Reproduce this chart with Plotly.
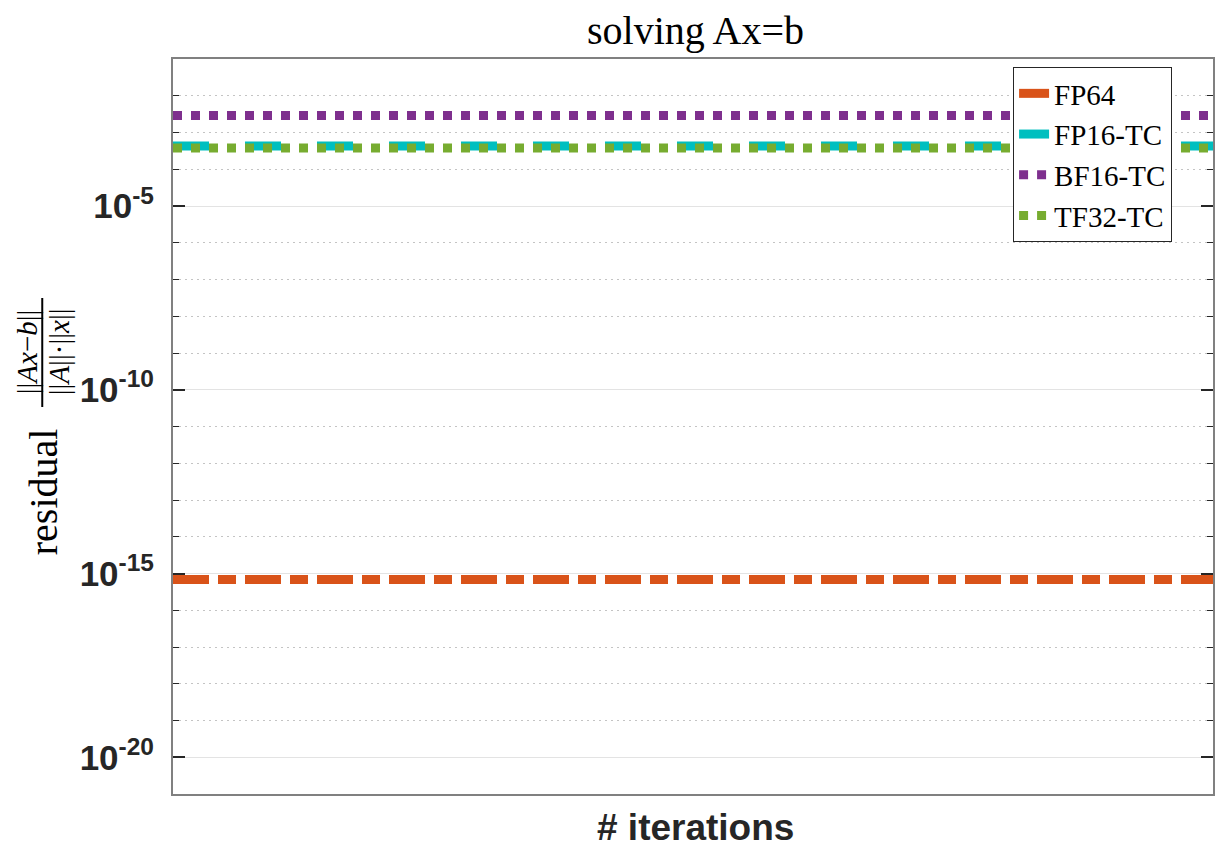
import plotly.graph_objects as go

# ---- data ----
iterations = [1, 2, 3, 4, 5, 6, 7, 8, 9, 10]
fp64 = [6.9e-16, 6.9e-16, 6.9e-16, 6.9e-16, 6.9e-16, 6.9e-16, 6.9e-16, 6.9e-16, 6.9e-16, 6.9e-16]
fp16_tc = [4.3e-4, 4.3e-4, 4.3e-4, 4.3e-4, 4.3e-4, 4.3e-4, 4.3e-4, 4.3e-4, 4.3e-4, 4.3e-4]
bf16_tc = [2.9e-3, 2.9e-3, 2.9e-3, 2.9e-3, 2.9e-3, 2.9e-3, 2.9e-3, 2.9e-3, 2.9e-3, 2.9e-3]
tf32_tc = [3.8e-4, 3.8e-4, 3.8e-4, 3.8e-4, 3.8e-4, 3.8e-4, 3.8e-4, 3.8e-4, 3.8e-4, 3.8e-4]

series_names = ["FP64", "FP16-TC", "BF16-TC", "TF32-TC"]
series_values = [fp64, fp16_tc, bf16_tc, tf32_tc]
series_colors = ["#D95319", "#00BFBF", "#7E2F8E", "#77AC30"]
series_dash = ["36px,9px,18px,9px", "36px,36px", "9px,9px", "9px,9px"]

major_exp = [-20, -15, -10, -5]
major_vals = [10.0 ** e for e in major_exp]
major_text = ["<b>10<sup>%d</sup></b>" % e for e in major_exp]
minor_vals = [10.0 ** (-k) for k in range(1, 22) if k % 5 != 0]

W, H = 1215, 847
L, R, T, B = 173, 0, 59, 53
PW, PH = W - L - R, H - T - B


def px(x):
    return (x - L) / PW


def py(y):
    return (H - B - y) / PH


fig = go.Figure()
for name, vals, col, dash in zip(series_names, series_values, series_colors, series_dash):
    fig.add_trace(go.Scatter(
        x=iterations, y=vals, mode="lines", name=name,
        line=dict(color=col, width=9, dash=dash),
    ))

axis_col = "#808080"
fig.update_layout(
    width=W, height=H,
    margin=dict(l=L, r=R, t=T, b=B),
    paper_bgcolor="white", plot_bgcolor="white",
    showlegend=True,
    legend=dict(
        x=px(1174), y=py(67), xanchor="right", yanchor="top",
        bgcolor="white", bordercolor="#262626", borderwidth=1,
        font=dict(family="Liberation Serif", size=29, color="black"),
        tracegroupgap=0, entrywidth=145, entrywidthmode="pixels",
    ),
    xaxis=dict(
        range=[1, 10], showticklabels=False, ticks="", showgrid=False,
        zeroline=False, showline=True, linecolor=axis_col, linewidth=2, mirror=True,
    ),
    yaxis=dict(
        type="log", range=[-21, -1],
        tickmode="array", tickvals=major_vals, ticktext=major_text,
        tickfont=dict(family="Liberation Sans", size=35, color="#262626"),
        ticks="inside", ticklen=12, tickwidth=1.5, tickcolor="#262626",
        ticklabelstandoff=10,
        showgrid=True, gridcolor="#e3e3e3", gridwidth=1,
        zeroline=False, showline=True, linecolor=axis_col, linewidth=2, mirror="allticks",
        minor=dict(
            tickmode="array", tickvals=minor_vals, ticks="inside", ticklen=6,
            tickcolor="#262626", tickwidth=1,
            showgrid=True, gridcolor="#c4c4c4", gridwidth=1, griddash="1.5px,4.5px",
        ),
    ),
    annotations=[
        dict(text="solving Ax=b", x=px(697), y=py(30), xref="paper", yref="paper",
             xanchor="center", yanchor="middle", showarrow=False,
             font=dict(family="Liberation Serif", size=40, color="black")),
        dict(text="<b># iterations</b>", x=px(697), y=py(827), xref="paper", yref="paper",
             xanchor="center", yanchor="middle", showarrow=False,
             font=dict(family="Liberation Sans", size=37, color="#262626")),
        dict(text="residual", x=px(43), y=py(492), xref="paper", yref="paper",
             xanchor="center", yanchor="middle", showarrow=False, textangle=-90,
             font=dict(family="Liberation Serif", size=40, color="black")),
        dict(text="||<i>Ax</i>−<i>b</i>||", x=px(27), y=py(352), xref="paper", yref="paper",
             xanchor="center", yanchor="middle", showarrow=False, textangle=-90,
             font=dict(family="Liberation Serif", size=29, color="black")),
        dict(text="||<i>A</i>||·||<i>x</i>||", x=px(59), y=py(352), xref="paper", yref="paper",
             xanchor="center", yanchor="middle", showarrow=False, textangle=-90,
             font=dict(family="Liberation Serif", size=29, color="black")),
    ],
    shapes=[
        dict(type="line", xref="paper", yref="paper", x0=px(42), x1=px(42),
             y0=py(298), y1=py(407), line=dict(color="black", width=2)),
    ],
)

fig.write_html(
    "out.html",
    config={"displayModeBar": False},
    post_script="document.body.style.margin='0px';document.body.style.overflow='hidden';",
)
